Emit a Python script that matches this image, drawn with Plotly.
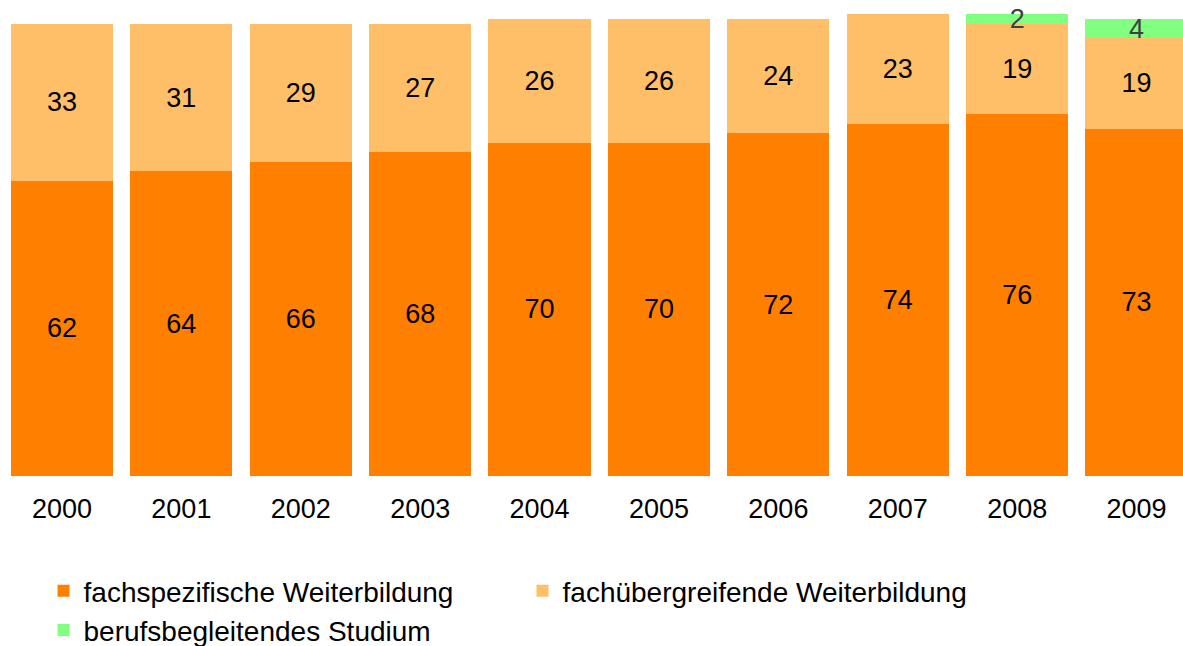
import plotly.graph_objects as go

years = ["2000", "2001", "2002", "2003", "2004", "2005", "2006", "2007", "2008", "2009"]
fachspezifisch = [62, 64, 66, 68, 70, 70, 72, 74, 76, 73]
fachuebergreifend = [33, 31, 29, 27, 26, 26, 24, 23, 19, 19]
studium = [None, None, None, None, None, None, None, None, 2, 4]

FONT = "Liberation Sans, Arial, sans-serif"

fig = go.Figure()
fig.add_trace(go.Bar(
    x=years, y=fachspezifisch, name="fachspezifische Weiterbildung",
    marker=dict(color="#FF8000", line=dict(width=0)),
    text=[str(v) for v in fachspezifisch], textposition="inside", textangle=0,
    insidetextanchor="middle", constraintext="none",
    textfont=dict(color="#000000", size=27, family=FONT),
))
fig.add_trace(go.Bar(
    x=years, y=fachuebergreifend, name="fachübergreifende Weiterbildung",
    marker=dict(color="#FFBF69", line=dict(width=0)),
    text=[str(v) for v in fachuebergreifend], textposition="inside", textangle=0,
    insidetextanchor="middle", constraintext="none",
    textfont=dict(color="#000000", size=27, family=FONT),
))
fig.add_trace(go.Bar(
    x=years, y=studium, name="berufsbegleitendes Studium",
    marker=dict(color="#80FF80", line=dict(width=0)),
    text=["" if v is None else str(v) for v in studium], textposition="inside", textangle=0,
    insidetextanchor="middle", constraintext="none",
    textfont=dict(color="#404040", size=27, family=FONT),
))

fig.update_layout(
    barmode="stack",
    bargap=0.144,
    width=1183, height=646,
    margin=dict(l=0, r=0, t=0, b=170, autoexpand=False),
    paper_bgcolor="white", plot_bgcolor="white",
    font=dict(family=FONT, size=27, color="#000000"),
    xaxis=dict(type="category", range=[-0.519, 9.389], showgrid=False,
               showline=False, zeroline=False, ticks="", automargin=False,
               ticklabelstandoff=14,
               tickfont=dict(size=27, color="#000000")),
    yaxis=dict(range=[0, 100], visible=False, showgrid=False, zeroline=False,
               automargin=False),
    showlegend=True,
    legend=dict(orientation="h", x=0.0368, xanchor="left", y=-0.189, yanchor="top",
                entrywidth=434, entrywidthmode="pixels", traceorder="normal",
                font=dict(size=28, color="#000000", family=FONT)),
)

fig.write_html("out.html", config={"displayModeBar": False},
               post_script="document.body.style.margin='0';document.body.style.padding='0';")
